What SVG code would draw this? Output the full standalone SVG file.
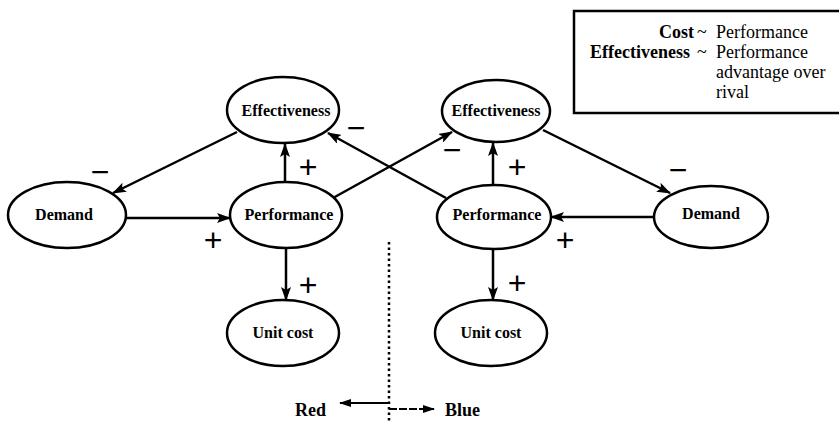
<svg xmlns="http://www.w3.org/2000/svg" width="839" height="423" viewBox="0 0 839 423">
<defs>
<marker id="ah" viewBox="0 0 14 10" refX="13" refY="5" markerWidth="14" markerHeight="10" markerUnits="userSpaceOnUse" orient="auto">
<path d="M0,0 L14,5 L0,10 L3,5 Z" fill="#000"/>
</marker>
<marker id="ahs" viewBox="0 0 12 8" refX="11" refY="4" markerWidth="12" markerHeight="8" markerUnits="userSpaceOnUse" orient="auto">
<path d="M0,0 L12,4 L0,8 Z" fill="#000"/>
</marker>
<style>
.node ellipse{fill:#fff;stroke:#000;stroke-width:2.5}
.node text{font-family:"Liberation Serif","DejaVu Serif",serif;font-weight:bold;font-size:16px;text-anchor:middle;fill:#000}
.edge{stroke:#000;stroke-width:2.5;fill:none;marker-end:url(#ah)}
.sign{font-family:"Liberation Sans",sans-serif;font-size:32px;text-anchor:middle;fill:#000}
.leg{font-family:"Liberation Serif","DejaVu Serif",serif;font-size:18px;fill:#000}
.legb{font-family:"Liberation Serif","DejaVu Serif",serif;font-size:18px;font-weight:bold;fill:#000;text-anchor:end}
.lab{font-family:"Liberation Serif","DejaVu Serif",serif;font-size:18px;font-weight:bold;fill:#000}
</style>
</defs>
<rect width="839" height="423" fill="#fff"/>

<g id="legend">
<rect x="574" y="11" width="280" height="102" fill="none" stroke="#000" stroke-width="2.5"/>
<text class="legb" x="694" y="38">Cost</text>
<text class="leg" x="697" y="38">~</text>
<text class="leg" x="716" y="38">Performance</text>
<text class="legb" x="690" y="58">Effectiveness</text>
<text class="leg" x="697" y="58">~</text>
<text class="leg" x="716" y="58">Performance</text>
<text class="leg" x="716" y="78">advantage over</text>
<text class="leg" x="716" y="98">rival</text>
</g>

<g id="connectors">
<line class="edge" x1="237" y1="132" x2="113" y2="193"/>
<line class="edge" x1="126" y1="218" x2="230" y2="218"/>
<line class="edge" x1="285" y1="182" x2="285" y2="144"/>
<line class="edge" x1="286" y1="248" x2="286" y2="300"/>
<line class="edge" x1="333" y1="198" x2="452" y2="132"/>
<line class="edge" x1="446" y1="198" x2="328" y2="133"/>
<line class="edge" x1="493" y1="185" x2="493" y2="143"/>
<line class="edge" x1="543" y1="130" x2="670" y2="193"/>
<line class="edge" x1="655" y1="217" x2="551" y2="217"/>
<line class="edge" x1="493" y1="249" x2="493" y2="300"/>
</g>

<g id="signs">
<text class="sign" x="100" y="183">−</text>
<text class="sign" x="213" y="251">+</text>
<text class="sign" x="308" y="178">+</text>
<text class="sign" x="308" y="296">+</text>
<text class="sign" x="356" y="139">−</text>
<text class="sign" x="452" y="161">−</text>
<text class="sign" x="517" y="178">+</text>
<text class="sign" x="678" y="181">−</text>
<text class="sign" x="565" y="251">+</text>
<text class="sign" x="517" y="294">+</text>
</g>

<g id="n-eff-red" class="node"><ellipse cx="283" cy="110" rx="56" ry="33"/><text x="286" y="116">Effectiveness</text></g>
<g id="n-demand-red" class="node"><ellipse cx="67" cy="215" rx="59" ry="33"/><text x="64" y="220">Demand</text></g>
<g id="n-perf-red" class="node"><ellipse cx="286" cy="215" rx="56" ry="33"/><text x="289" y="220">Performance</text></g>
<g id="n-unit-red" class="node"><ellipse cx="283" cy="333" rx="56" ry="33"/><text x="283" y="338">Unit cost</text></g>
<g id="n-eff-blue" class="node"><ellipse cx="496" cy="111" rx="54" ry="31"/><text x="496" y="116">Effectiveness</text></g>
<g id="n-perf-blue" class="node"><ellipse cx="494" cy="217" rx="57" ry="32"/><text x="497" y="220">Performance</text></g>
<g id="n-demand-blue" class="node"><ellipse cx="711" cy="217" rx="57" ry="31"/><text x="711" y="219">Demand</text></g>
<g id="n-unit-blue" class="node"><ellipse cx="491" cy="333" rx="56" ry="33"/><text x="491" y="338">Unit cost</text></g>

<g id="divider">
<line x1="389" y1="242" x2="389" y2="423" stroke="#000" stroke-width="2.5" stroke-dasharray="2.5,3"/>
<line x1="389" y1="403" x2="340" y2="403" stroke="#000" stroke-width="2" marker-end="url(#ahs)"/>
<line x1="389" y1="409" x2="434" y2="409" stroke="#000" stroke-width="1.8" stroke-dasharray="8,2" marker-end="url(#ahs)"/>
<text class="lab" x="295" y="416">Red</text>
<text class="lab" x="445" y="416">Blue</text>
</g>
</svg>
